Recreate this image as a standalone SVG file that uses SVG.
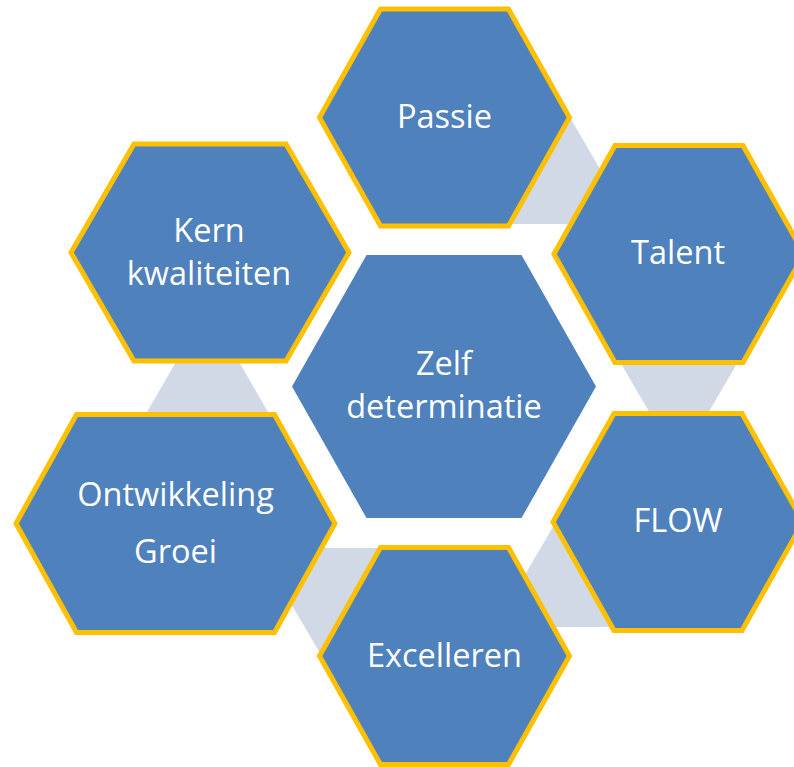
<svg xmlns="http://www.w3.org/2000/svg" width="794" height="767" viewBox="0 0 794 767">
<style>
.hex{fill:#4F81BD;stroke:#FFC000;stroke-width:5;stroke-linejoin:miter}
.center{fill:#4F81BD}
.conn{fill:#D1D8E6}
.lbl{font-family:"Open Sans","Noto Sans","Liberation Sans",sans-serif;font-size:32.5px;fill:#FFFFFF;text-anchor:middle}
</style>
<rect width="794" height="767" fill="#FFFFFF"/>
<g id="connectors">
<polygon class="conn" points="560,100 604,176 580,224 505,224"/>
<polygon class="conn" points="616,355 742,355 704,420 654,420"/>
<polygon class="conn" points="560,515 519,585 540,627 620,627"/>
<polygon class="conn" points="310,548 390,548 324,660 283,590"/>
<polygon class="conn" points="180,355 235,355 275.5,425 139.5,425"/>
</g>
<g id="zelf">
<polygon class="center" points="292,386.5 366.5,255 521.5,255 596,386.5 521.5,518 366.5,518"/>
<text class="lbl" x="444" y="375">Zelf</text>
<text class="lbl" x="444" y="418">determinatie</text>
</g>
<g id="passie">
<polygon class="hex" points="319.5,117.5 380.5,9 508.5,9 569.5,117.5 508.5,226 380.5,226"/>
<text class="lbl" x="444.5" y="128">Passie</text>
</g>
<g id="talent">
<polygon class="hex" points="554,254 615,145.5 743,145.5 804,254 743,362.5 615,362.5"/>
<text class="lbl" x="678" y="264">Talent</text>
</g>
<g id="flow">
<polygon class="hex" points="553,522 614,413.5 742,413.5 803,522 742,630.5 614,630.5"/>
<text class="lbl" x="678" y="532">FLOW</text>
</g>
<g id="excelleren">
<polygon class="hex" points="319.5,656 380.5,547.5 508.5,547.5 569.5,656 508.5,764.5 380.5,764.5"/>
<text class="lbl" x="444.5" y="667">Excelleren</text>
</g>
<g id="ontwikkeling">
<polygon class="hex" points="16,523.5 76.5,414.5 274.5,414.5 335,523.5 274.5,632.5 76.5,632.5"/>
<text class="lbl" x="175.5" y="506">Ontwikkeling</text>
<text class="lbl" x="175.5" y="563">Groei</text>
</g>
<g id="kern">
<polygon class="hex" points="71,252.5 134,144 286,144 349,252.5 286,361 134,361"/>
<text class="lbl" x="209" y="242">Kern</text>
<text class="lbl" x="209" y="285">kwaliteiten</text>
</g>
</svg>
